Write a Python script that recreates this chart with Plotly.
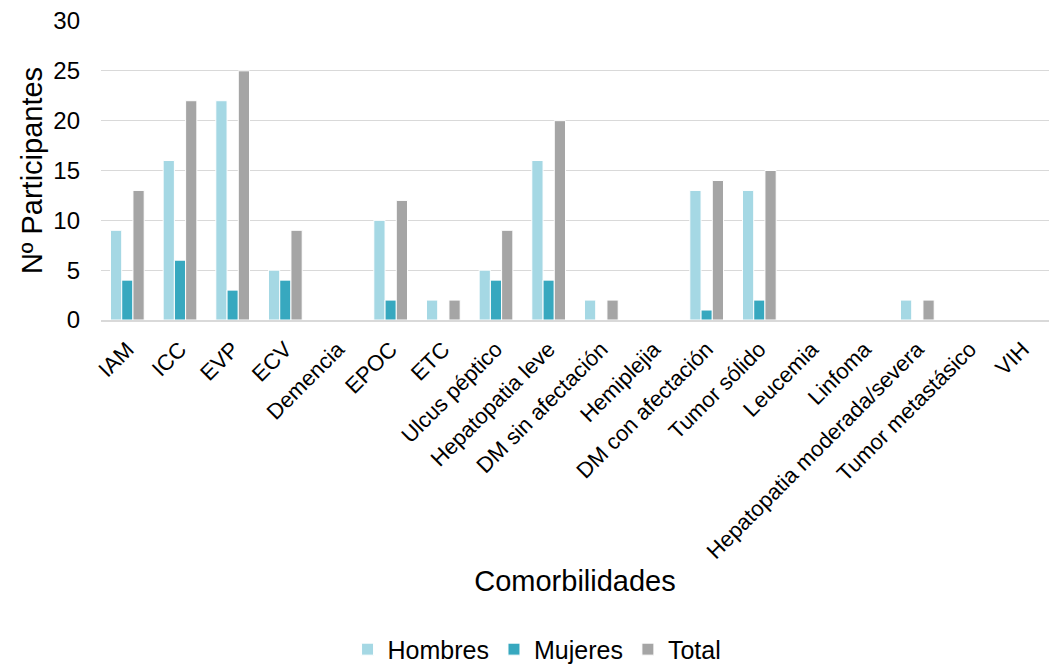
import plotly.graph_objects as go

categorias = ["IAM", "ICC", "EVP", "ECV", "Demencia", "EPOC", "ETC", "Ulcus péptico",
              "Hepatopatia leve", "DM sin afectación", "Hemiplejia", "DM con afectación",
              "Tumor sólido", "Leucemia", "Linfoma", "Hepatopatia moderada/severa",
              "Tumor metastásico", "VIH"]
hombres = [9, 16, 22, 5, 0, 10, 2, 5, 16, 2, 0, 13, 13, 0, 0, 2, 0, 0]
mujeres = [4, 6, 3, 4, 0, 2, 0, 4, 4, 0, 0, 1, 2, 0, 0, 0, 0, 0]
total = [13, 22, 25, 9, 0, 12, 2, 9, 20, 2, 0, 14, 15, 0, 0, 2, 0, 0]

series = [("Hombres", hombres, "#A5D8E4"),
          ("Mujeres", mujeres, "#37A8BF"),
          ("Total", total, "#A5A5A5")]

fig = go.Figure()
for nombre, valores, color in series:
    fig.add_trace(go.Bar(x=categorias, y=valores, name=nombre,
                         marker=dict(color=color, line=dict(color="white", width=1))))

font = "Liberation Sans, Arial, sans-serif"
fig.update_layout(
    width=1051, height=664,
    margin=dict(l=101, r=2, t=21, b=344, autoexpand=False),
    paper_bgcolor="white", plot_bgcolor="white",
    barmode="group", bargap=0.36, bargroupgap=0.0,
    font=dict(family=font, color="#000000"),
    xaxis=dict(tickangle=-45, tickfont=dict(size=22), showgrid=False, automargin=False,
               showline=True, linecolor="#D9D9D9", linewidth=1.5, ticklabelstandoff=6,
               title=dict(text="Comorbilidades", font=dict(size=29), standoff=8)),
    yaxis=dict(range=[0, 30], dtick=5, tickfont=dict(size=24), automargin=False,
               gridcolor="#D9D9D9", gridwidth=1, zeroline=False,
               ticklabelstandoff=20,
               title=dict(text="Nº Participantes", font=dict(size=29), standoff=2)),
    legend=dict(orientation="h", x=0.511, xanchor="center", xref="container",
                y=0.022, yanchor="middle", yref="container",
                font=dict(size=25), itemwidth=30, traceorder="normal"),
)

fig.write_html("out.html")
